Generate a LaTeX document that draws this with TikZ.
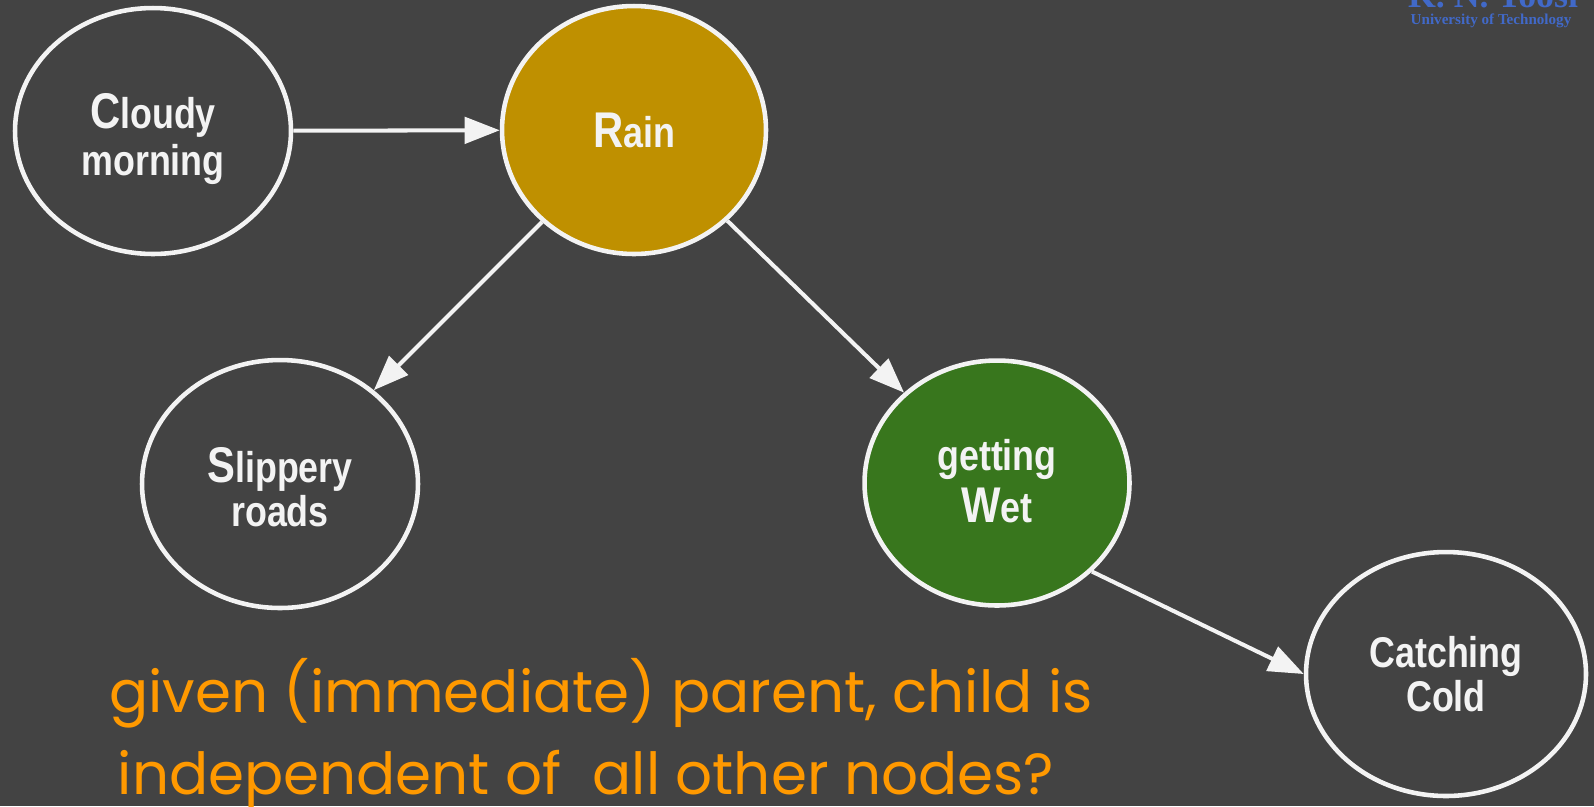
\documentclass[tikz,border=0pt]{standalone}
\usepackage{fontspec}
\setmainfont{Liberation Sans}
\newfontfamily\logofont{Liberation Serif}
\newfontfamily\notefont{Poppins}
\usetikzlibrary{shapes.geometric,arrows.meta}
\definecolor{bg}{HTML}{434343}
\definecolor{ink}{HTML}{F3F3F3}
\definecolor{rainfill}{HTML}{BF9000}
\definecolor{wetfill}{HTML}{38761D}
\definecolor{note}{HTML}{FF9900}
\definecolor{logoblue}{HTML}{4169C8}
% larger first letter of each variable name
\newcommand\initial[1]{{\fontsize{23.8}{24}\selectfont #1}}
% node labels are set slightly taller than wide
\newcommand\tall[1]{\scalebox{1}[1.2]{#1}}

\begin{document}
\begin{tikzpicture}[x=0.02cm,y=-0.02cm,
  var/.style={ellipse, draw=ink, line width=2.6pt, text=ink, inner sep=0pt, align=center},
  % line spacing and the box above the last baseline, which place a two-line label
  label lines/.style 2 args={font=\bfseries\fontsize{20.4}{#1}\selectfont,
    text height=#2, text depth=0pt},
  link/.style={draw=ink, line width=2.3pt, -{Triangle[length=20pt,width=15pt]}},
  notetext/.style={text=note, font=\notefont\fontsize{33}{40}\selectfont, anchor=base, inner sep=0pt},
]
\fill[bg] (0,0) rectangle (1594,806);
\useasboundingbox (0,0) rectangle (1594,806);

% university mark
\node[anchor=base, text=logoblue, font=\logofont\bfseries\fontsize{20.4}{22}\selectfont, inner sep=0pt] (logo) at (1493,7) {K. N. Toosi};
\node[anchor=base, text=logoblue, font=\logofont\bfseries\fontsize{8.6}{10}\selectfont, inner sep=0pt] (univ) at (1491,24) {University of Technology};

% variables
\node[var, label lines={27.2pt}{51pt}, minimum width=5.52cm, minimum height=4.92cm] (cloudy) at (153,131) {\tall{\initial{C}loudy}\\\tall{morning}};
\node[var, font=\bfseries\fontsize{20.4}{25}\selectfont, fill=rainfill, minimum width=5.28cm, minimum height=4.96cm] (rain) at (634,130) {\tall{\initial{R}ain}};
\node[var, label lines={25.5pt}{48.8pt}, minimum width=5.52cm, minimum height=4.96cm] (slip) at (280,484) {\tall{\initial{S}lippery}\\\tall{roads}};
\node[var, label lines={30pt}{45.4pt}, fill=wetfill, minimum width=5.3cm, minimum height=4.9cm] (wet) at (997,483) {\tall{getting}\\\tall{\initial{W}et}};
\node[var, label lines={25pt}{43.1pt}, minimum width=5.6cm, minimum height=4.88cm] (cold) at (1446,674) {\tall{Catching}\\\tall{Cold}};

% dependencies
\draw[link] (cloudy) -- (rain);
\draw[link] (rain) -- (slip);
\draw[link] (rain) -- (wet);
\draw[link] (wet.-43.5) -- (cold.west);

% question
\node[notetext] (q1) at (601,712) {given (immediate) parent, child is};
\node[notetext] (q2) at (586,794) {independent of\ \ all other nodes?};
\end{tikzpicture}
\end{document}
